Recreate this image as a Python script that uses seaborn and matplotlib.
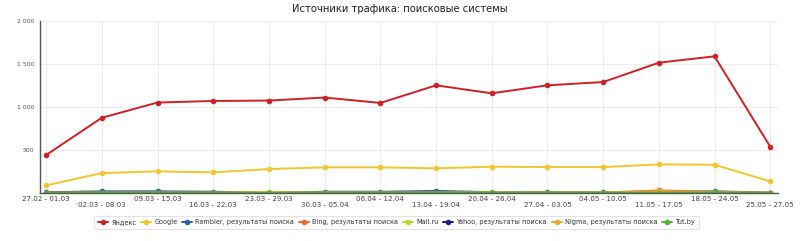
import matplotlib
matplotlib.use("Agg")
import matplotlib.pyplot as plt
import seaborn as sns
import pandas as pd

weeks = ["27.02 - 01.03", "02.03 - 08.03", "09.03 - 15.03", "16.03 - 22.03",
         "23.03 - 29.03", "30.03 - 05.04", "06.04 - 12.04", "13.04 - 19.04",
         "20.04 - 26.04", "27.04 - 03.05", "04.05 - 10.05", "11.05 - 17.05",
         "18.05 - 24.05", "25.05 - 27.05"]

yandex  = [442, 875, 1052, 1070, 1075, 1110, 1047, 1252, 1159, 1252, 1290, 1515, 1589, 539]
google  = [89, 232, 252, 240, 279, 299, 299, 287, 306, 302, 302, 333, 329, 136]
rambler = [10, 20, 20, 15, 6, 15, 15, 25, 10, 10, 10, 10, 20, 5]
bing    = [4, 5, 5, 4, 5, 5, 5, 6, 5, 5, 6, 30, 15, 3]
mailru  = [3, 4, 5, 4, 12, 5, 5, 5, 8, 5, 6, 8, 6, 2]
yahoo   = [1, 2, 2, 1, 1, 2, 2, 2, 1, 1, 1, 2, 2, 1]
nigma   = [2, 3, 3, 2, 3, 3, 3, 3, 3, 3, 5, 20, 10, 2]
tutby   = [3, 5, 5, 3, 3, 5, 4, 5, 5, 5, 5, 5, 8, 2]

series_names = ["Яндекс", "Google", "Rambler, результаты поиска", "Bing, результаты поиска",
                "Mail.ru", "Yahoo, результаты поиска", "Nigma, результаты поиска", "Tut.by"]
series_vals = [yandex, google, rambler, bing, mailru, yahoo, nigma, tutby]
colors = ["#d11f25", "#f2c62c", "#2b5eab", "#f0692a", "#b9d530", "#1b1b94", "#f5a62a", "#4cb52e"]

rows = []
for name, vals in zip(series_names, series_vals):
    for i, v in enumerate(vals):
        rows.append({"week": i, "value": v, "series": name})
df = pd.DataFrame(rows)

sns.set_style("white")
plt.rcParams['font.family'] = ['DejaVu Sans']

fig = plt.figure(figsize=(8, 2.41), dpi=100)
ax = fig.add_axes([0.05, 0.199, 0.9225, 0.714])

sns.lineplot(data=df, x="week", y="value", hue="series", hue_order=series_names,
             palette=colors, marker="o", markersize=4, markeredgewidth=0,
             linewidth=1.4, ax=ax, legend=True)

ax.set_xlim(-0.11, 13.14)
ax.set_ylim(0, 2000)
ax.set_yticks([500, 1000, 1500, 2000])
ax.set_yticklabels(["500", "1 000", "1 500", "2 000"], fontsize=4.4, color="#555555")
ax.set_xticks(range(len(weeks)))
ax.set_xticklabels([w if i % 2 == 0 else "\n" + w for i, w in enumerate(weeks)],
                   fontsize=5.1, color="#444444", linespacing=0.95)
ax.tick_params(axis="both", length=0, pad=2)
ax.tick_params(axis="y", pad=4)
ax.set_xlabel("")
ax.set_ylabel("")
ax.grid(True, color="#ececec", linewidth=0.8)
ax.set_axisbelow(True)
for s in ["top", "right"]:
    ax.spines[s].set_visible(False)
ax.spines["left"].set_color("#555555")
ax.spines["left"].set_linewidth(1.0)
ax.spines["bottom"].set_color("#555555")
ax.spines["bottom"].set_linewidth(1.0)

fig.suptitle("Источники трафика: поисковые системы", x=0.5, y=0.985, fontsize=7.2, color="#222222")

handles, labels = ax.get_legend_handles_labels()
ax.get_legend().remove()
leg = fig.legend(handles, labels, loc="center", bbox_to_anchor=(0.496, 0.077), ncol=8,
                 fontsize=4.7, frameon=True, handlelength=1.5, handletextpad=0.5,
                 columnspacing=0.75, borderpad=0.6, fancybox=True)
leg.get_frame().set_edgecolor("#dddddd")
leg.get_frame().set_linewidth(0.8)
for t in leg.get_texts():
    t.set_color("#333333")

fig.savefig("out.png", dpi=100)
